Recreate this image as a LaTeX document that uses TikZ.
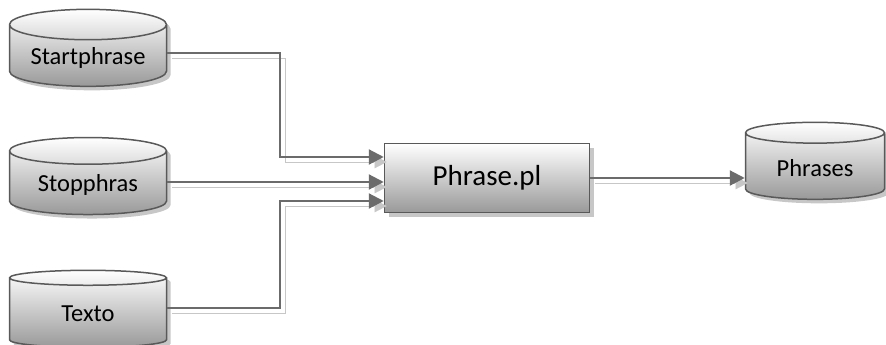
\documentclass[tikz,border=0pt]{standalone}
\usepackage{fontspec}
\setmainfont{Carlito}
\usetikzlibrary{shapes.geometric, shadows, arrows.meta, positioning}
\definecolor{gray35}{gray}{0.35}
\definecolor{gray42}{gray}{0.42}
\definecolor{gray60}{gray}{0.6}
\definecolor{gray78}{gray}{0.78}

\begin{document}
\begin{tikzpicture}[x=1pt, y=1pt,
  basic/.style = {draw=gray35, line width=1.5pt, top color=white, bottom color=gray60,
                  drop shadow={shadow xshift=4pt, shadow yshift=-4pt, fill=gray78, opacity=1}},
  store/.style = {basic, cylinder, shape border rotate=90, aspect=0.25,
                  minimum width=157pt, minimum height=77pt, font=\fontsize{24.5}{29}\selectfont},
  prog/.style  = {basic, rectangle, minimum width=205pt, minimum height=69pt,
                  font=\fontsize{29}{34}\selectfont},
  flow/.style  = {draw=gray42, line width=2.2pt, -{Triangle[length=15pt, width=15pt]},
                  preaction={draw=gray78, transform canvas={shift={(5pt,-5pt)}}}}]

\useasboundingbox (0,0) rectangle (886,-345);

% data stores on the left, program in the middle
\node[store] (start) at (88,-58)  {Startphrase};
\node[store] (stop)  at (88,-185) {Stopphras};
\node[store] (texto) at (88,-314) {Texto};
\node[prog]  (prog)  at (487,-178) {Phrase.pl};
\node[store, minimum width=139pt] (phrases) at (815,-168) {Phrases};

% entry points on the program box
\coordinate (in1) at ([yshift=21pt]prog.west);
\coordinate (in2) at ([yshift=-4pt]prog.west);
\coordinate (in3) at ([yshift=-23pt]prog.west);
\coordinate (bend) at (280,0);

\draw[flow] ([yshift=5pt]start.east) -| (bend |- in1) -- (in1);
\draw[flow] (stop.east |- in2) -- (in2);
\draw[flow] ([yshift=6pt]texto.east) -| (bend |- in3) -- (in3);
\draw[flow] (prog.east) -- (prog.east -| phrases.west);

\end{tikzpicture}
\end{document}
